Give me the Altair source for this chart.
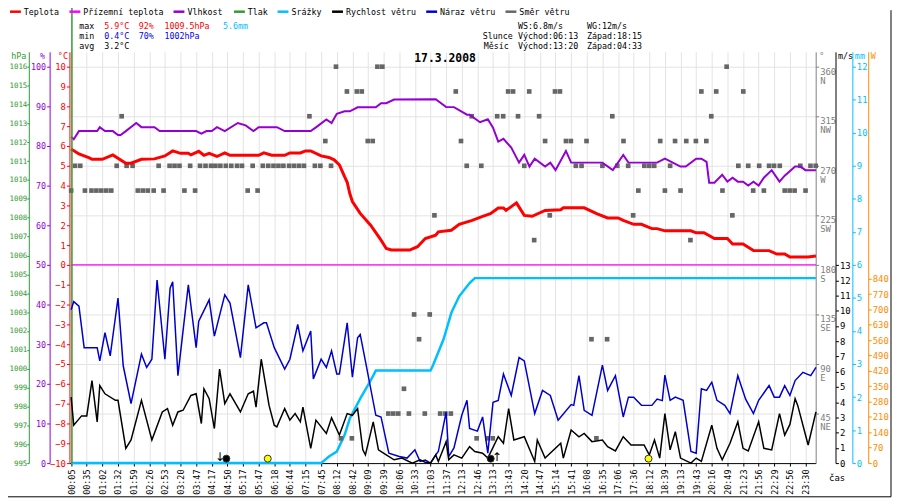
import altair as alt
import pandas as pd

PISMO = "DejaVu Sans Mono"

# popisky osy x (kazdy 6. vzorek)
casy = ["00:05", "00:35", "01:02", "01:32", "01:59", "02:26", "02:53", "03:20", "03:47", "04:17",
        "04:50", "05:17", "05:47", "06:18", "06:44", "07:15", "07:45", "08:12", "08:42", "09:09",
        "09:39", "10:06", "10:33", "11:03", "11:37", "12:13", "12:46", "13:13", "13:43", "14:20",
        "14:47", "15:14", "15:41", "16:08", "16:35", "17:06", "17:36", "18:12", "18:39", "19:13",
        "19:43", "20:16", "20:49", "21:23", "21:56", "22:29", "22:56", "23:30"]

# teplota [°C]
teplota_s = [0, 3, 7, 8, 12, 16, 21, 23, 27, 32, 36, 39, 42, 45, 46, 49, 51, 53, 56, 59, 61, 72, 74, 77, 82,
             84, 88, 90, 92, 96, 99, 101, 103, 105, 106, 107, 108, 111, 115, 119, 121, 123, 130, 133, 136,
             140, 141, 146, 149, 154, 158, 161, 164, 166, 167, 171, 174, 177, 182, 188, 189, 197, 202, 206,
             210, 212, 216, 219, 223, 225, 228, 238, 240, 243, 247, 252, 254, 258, 262, 268, 271, 274, 276,
             283, 286]
teplota = [5.85, 5.6, 5.4, 5.33, 5.33, 5.55, 5.13, 5.13, 5.33, 5.35, 5.5, 5.75, 5.63, 5.63, 5.55, 5.73, 5.53,
           5.63, 5.47, 5.65, 5.53, 5.53, 5.65, 5.53, 5.53, 5.65, 5.65, 5.75, 5.75, 5.5, 5.42, 5.3, 5.05,
           4.45, 4.17, 3.6, 3.2, 2.6, 2.0, 1.25, 0.83, 0.75, 0.75, 0.92, 1.33, 1.5, 1.67, 1.75, 2.05, 2.25,
           2.45, 2.58, 2.87, 2.87, 2.75, 3.13, 2.5, 2.45, 2.75, 2.78, 2.88, 2.88, 2.58, 2.37, 2.37, 2.25,
           2.05, 2.05, 1.83, 1.83, 1.72, 1.72, 1.62, 1.62, 1.33, 1.33, 1.05, 1.05, 0.72, 0.72, 0.55, 0.55,
           0.4, 0.4, 0.45]

# prizemni teplota [°C]
prizemni_s = [0, 286]
prizemni = [0.0, 0.0]

# vlhkost [%]
vlhkost_s = [0, 1, 3, 10, 11, 13, 16, 18, 19, 21, 25, 27, 32, 34, 48, 50, 52, 54, 56, 59, 64, 67, 70, 72, 79,
             82, 92, 94, 98, 100, 102, 105, 107, 110, 117, 119, 121, 124, 140, 144, 147, 152, 153, 157, 160,
             162, 164, 166, 169, 172, 174, 176, 178, 182, 184, 186, 190, 192, 204, 208, 212, 214, 225, 228,
             234, 236, 240, 242, 244, 245, 247, 250, 252, 254, 256, 258, 260, 262, 264, 266, 269, 272, 274,
             278, 280, 282, 286]
vlhkost = [82.3, 81.7, 83.75, 83.75, 84.75, 83.75, 83.75, 82.75, 82.75, 83.75, 85.8, 84.75, 84.75, 83.75,
           83.75, 83.1, 83.75, 83.75, 84.75, 83.75, 85.8, 85.2, 83.75, 84.75, 84.75, 83.75, 83.75, 84.7, 86.7,
           85.8, 88.1, 88.75, 88.75, 89.75, 89.75, 90.8, 90.8, 91.7, 91.8, 89.8, 89.8, 87.9, 87.9, 86, 86.75,
           84.6, 81.1, 81.8, 79.6, 75.8, 77.75, 74.8, 76.8, 74.8, 75.8, 73.9, 78.75, 75.8, 75.8, 73.9, 77.75,
           75.8, 75.8, 76.8, 74.8, 74.8, 76.8, 76.8, 76, 70.75, 70.75, 72.75, 71, 72, 71, 71, 70, 71, 70, 72,
           73.9, 71, 72.5, 74.8, 74.8, 73.9, 73.9]

# srazky [mm]
srazky_s = [0, 96, 99, 102, 105, 107, 111, 115, 117, 138, 139, 143, 146, 149, 153, 155, 286]
srazky = [0, 0, 0.2, 0.35, 0.85, 1.35, 1.95, 2.5, 2.8, 2.8, 2.97, 3.75, 4.55, 5.05, 5.45, 5.6, 5.6]

# naraz vetru [m/s]
naraz_s = [0, 1, 3, 5, 10, 11, 13, 15, 18, 20, 23, 27, 29, 31, 33, 36, 38, 39, 41, 45, 48, 49, 53, 55, 59,
           61, 65, 68, 71, 74, 75, 78, 82, 84, 87, 89, 92, 93, 96, 98, 100, 102, 103, 106, 108, 110, 111,
           113, 117, 119, 122, 126, 129, 132, 134, 136, 138, 140, 141, 144, 145, 147, 150, 152, 153, 156,
           158, 160, 162, 164, 166, 169, 172, 174, 178, 181, 184, 187, 192, 193, 195, 197, 200, 204, 206,
           209, 212, 214, 216, 219, 223, 225, 227, 228, 230, 232, 235, 238, 240, 242, 244, 246, 248, 251,
           253, 256, 259, 262, 264, 268, 270, 272, 274, 276, 278, 281, 284, 286]
naraz = [10.07, 10.6, 10.3, 7.58, 7.58, 6.71, 8.56, 7.04, 10.84, 6.39, 3.9, 7.15, 6.28, 6.82, 12.02, 6.82,
         11.48, 11.91, 5.74, 11.7, 7.58, 9.31, 10.72, 8.34, 11.05, 10.51, 6.93, 11.7, 8.88, 9.21, 9.21, 7.58,
         6.17, 6.82, 9.1, 7.37, 8.67, 5.53, 6.82, 6.28, 7.37, 5.85, 5.85, 9.21, 5.64, 8.23, 8.45, 6.7, 3.14,
         3.03, 0.65, 0.43, 0.33, 0.87, 0.11, 0.2, 0, 0.54, 0.76, 3.36, 0.43, 1.0, 3.14, 4.12, 2.27, 2.1,
         3.03, 0.65, 4.0, 4.12, 5.85, 4.44, 6.93, 6.71, 3.25, 4.77, 4.44, 2.82, 3.84, 3.79, 5.74, 3.47, 3.14,
         6.43, 4.77, 5.74, 3.03, 4.33, 4.33, 3.79, 3.79, 4.2, 4.1, 5.78, 4.12, 4.33, 4.12, 0.76, 0.65, 4.88,
         4.77, 5.31, 4.12, 3.79, 3.25, 5.74, 4.2, 3.25, 4.12, 5.09, 4.33, 4.33, 5.09, 4.44, 5.42, 5.96,
         5.74, 6.28]

# rychlost vetru [m/s]
rychlost_s = [0, 1, 4, 6, 8, 10, 11, 13, 17, 18, 21, 23, 27, 31, 35, 37, 39, 41, 43, 46, 48, 50, 51, 53, 55,
              57, 59, 61, 65, 68, 70, 71, 73, 76, 78, 79, 82, 84, 86, 88, 89, 92, 94, 98, 100, 103, 106, 108,
              110, 112, 113, 116, 118, 121, 124, 127, 131, 134, 136, 138, 140, 141, 144, 145, 147, 150, 153,
              155, 158, 160, 164, 166, 168, 170, 174, 178, 179, 182, 188, 189, 192, 195, 197, 200, 204, 206,
              209, 212, 215, 220, 222, 224, 226, 228, 230, 232, 234, 238, 240, 242, 246, 248, 250, 253, 256,
              258, 260, 264, 266, 269, 272, 274, 276, 278, 279, 283, 286]
rychlost = [4.33, 2.49, 3.1, 3.1, 5.42, 2.71, 5.09, 4.55, 4.12, 4.12, 0.97, 1.52, 4.12, 1.52, 3.36, 3.58,
            2.49, 3.36, 3.47, 4.44, 4.55, 2.6, 4.88, 4.23, 2.27, 6.17, 3.9, 4.55, 3.36, 4.55, 4.72, 3.68,
            6.82, 3.79, 2.49, 2.38, 3.58, 2.82, 3.25, 2.71, 3.68, 0.97, 2.82, 1.95, 2.97, 1.84, 3.25, 3.14,
            3.58, 0.87, 0.54, 2.71, 0.87, 0.54, 0.22, 0.33, 0, 0.22, 0.05, 0, 0.54, 0.11, 1.41, 0.22, 0.54,
            0.33, 1.08, 0.76, 0.65, 0.33, 1.73, 1.3, 3.58, 1.52, 1.73, 0.11, 1.52, 0.33, 1.3, 0.33, 2.17,
            1.73, 1.95, 1.41, 1.52, 1.08, 0.8, 1.73, 1.19, 1.19, 0.54, 1.52, 0.33, 3.25, 0.87, 2.06, 0.33, 0,
            0.33, 0.11, 2.49, 0.97, 0.22, 1.3, 2.71, 0.97, 0.8, 2.71, 0.97, 0.87, 3.25, 1.84, 2.54, 4.23,
            3.79, 1.19, 3.36]

# smer vetru: vzorky podle svetove strany [°]
smer_360 = [101.7, 117.6, 119.5, 251.7]
smer_337 = [105.9, 109.7, 111.6, 147.7, 167.8, 169.7, 175.9, 185.8, 187.7, 242, 247.7, 258.1]
smer_315 = [19.4, 91.5, 153.8, 163.6, 165.9, 171.6, 179.7, 207.8, 245.8]
smer_292 = [97.6, 113.9, 115.8, 149.7, 182, 190, 191.9, 197.9, 212.1, 226.2, 231.9, 236.2, 239.9, 243.9]
smer_270 = [1.5, 3.5, 17.5, 21.3, 23.6, 33.6, 37.8, 39.7, 41.6, 45.7, 49.5, 51.6, 53.7, 55.4, 57.3, 59.4,
            61.5, 63.7, 65.6, 69.7, 73.6, 75.7, 77.7, 79.6, 81.5, 83.7, 85.6, 87.5, 89.4, 93.6, 95.7, 99.8,
            151.9, 157.5, 174, 193.8, 196, 204, 209.7, 213.9, 220.1, 222, 223.9, 230, 256.2, 260, 264.2,
            268, 269.9, 272.1, 280, 283.9, 285.9]
smer_247 = [0, 5.3, 7.8, 9.7, 11.6, 13.5, 15.4, 25.6, 27.5, 29.4, 31.7, 35.5, 43.5, 47.6, 67.8, 71.6,
            217.8, 228, 234, 250.1, 261.9, 266, 274, 275.9, 277.8, 282]
smer_225 = [139.5, 183.8, 215.8, 253.9]
smer_202 = [177.8, 237.8]
smer_135 = [131.7, 137.7]
smer_112 = [133.6, 199.8, 205.8]
smer_67 = [127.8]
smer_45 = [121.8, 123.7, 125.6, 129.7, 135.8, 141.7, 143.7, 145.8]
smer_22 = [103.6, 107.8, 155.7, 159.8, 161.9, 201.7]

# vychod / zapad slunce a mesice
udalosti_s = [59.6, 75.5, 161.1, 221.7]
udalosti = ["měsíc", "slunce", "měsíc", "slunce"]
sipky_s = [57.2, 163.6]
sipky = ["↓", "↑"]

serie = ["Teplota", "Přízemní teplota", "Vlhkost", "Tlak", "Srážky", "Rychlost větru", "Náraz větru",
         "Směr větru"]
barvy = ["#ff0000", "#ff00ff", "#9400d3", "#339933", "#00bfff", "#000000", "#0000cc", "#666666"]
legenda_x = [-60, 0, 105, 166, 210, 265, 360, 440]


def tabulka(s, v, nazev):
    return pd.DataFrame({"s": s, "v": v, "serie": nazev})


smer_df = pd.concat([
    pd.DataFrame({"s": body, "v": uhel}) for uhel, body in [
        (360, smer_360), (337.5, smer_337), (315, smer_315), (292.5, smer_292), (270, smer_270),
        (247.5, smer_247), (225, smer_225), (202.5, smer_202), (135, smer_135), (112.5, smer_112),
        (67.5, smer_67), (45, smer_45), (22.5, smer_22)]
])

popisky = "[" + ",".join(f"'{c}'" for c in casy) + "][round(datum.value / 6)]"

x_osa = alt.X(
    "s:Q",
    scale=alt.Scale(domain=[-0.65, 285.9], nice=False, zero=False),
    axis=alt.Axis(values=list(range(0, 283, 6)), labelExpr=popisky, labelAngle=270, labelFlush=False,
                  labelOverlap=False, labelFont=PISMO, labelFontSize=8.5, labelPadding=3, tickSize=3,
                  tickColor="black", domainColor="black", grid=True, gridColor="#e3e3e3",
                  title="čas", titleAngle=0, titleX=766, titleY=15, titleAlign="left",
                  titleBaseline="middle", titleFont=PISMO, titleFontSize=9, titleFontWeight="normal"),
)

barva = alt.Color("serie:N", scale=alt.Scale(domain=serie, range=barvy), legend=None)


def osa_y(strana, posun, barva_osy, hodnoty, nadpis, nadpis_x, mrizka=False, tick=3, velikost=9,
          mezera=1, **dalsi):
    return alt.Axis(
        orient=strana, offset=posun, values=hodnoty, grid=mrizka, format="d",
        domainColor=barva_osy, tickColor=barva_osy, labelColor=barva_osy, titleColor=barva_osy,
        tickSize=tick, labelPadding=mezera, labelFont=PISMO, labelFontSize=velikost, labelOverlap=False,
        title=nadpis, titleAngle=0, titleX=nadpis_x, titleY=4,
        titleAlign="right" if strana == "left" else "left", titleBaseline="middle",
        titleFont=PISMO, titleFontSize=8.5, titleFontWeight="normal", **dalsi)


# teplota + prizemni teplota (osa °C)
y_teplota = alt.Y("v:Q", scale=alt.Scale(domain=[-10, 10.75], nice=False, zero=False),
                  axis=osa_y("left", 0, "#ff0000", list(range(-10, 11)), "°C", -2))
teplota_vrstva = alt.layer(
    alt.Chart(tabulka(prizemni_s, prizemni, "Přízemní teplota")).mark_line(strokeWidth=1.2).encode(
        x=x_osa, y=y_teplota, color=barva),
    alt.Chart(tabulka(teplota_s, teplota, "Teplota")).mark_line(strokeWidth=3).encode(
        x=x_osa, y=y_teplota, color=barva),
)

# vlhkost (osa %)
vlhkost_vrstva = alt.Chart(tabulka(vlhkost_s, vlhkost, "Vlhkost")).mark_line(strokeWidth=2).encode(
    x=x_osa,
    y=alt.Y("v:Q", scale=alt.Scale(domain=[0, 103.75], nice=False, zero=False),
            axis=osa_y("left", 20, "#9400d3", list(range(0, 101, 10)), "%", -5, velikost=8.5)),
    color=barva,
)

# tlak (osa hPa)
tlak_vrstva = alt.Chart(pd.DataFrame({"s": [0.3], "p0": [995], "p1": [1019.5], "serie": ["Tlak"]})).mark_rule(
    strokeWidth=1.5).encode(
    x=x_osa,
    y=alt.Y("p0:Q", scale=alt.Scale(domain=[995, 1016.79], nice=False, zero=False),
            axis=osa_y("left", 41, "#339933", list(range(995, 1017)), "hPa", -3, tick=2, velikost=7.5,
                       mezera=0)),
    y2="p1:Q",
    color=barva,
)

# smer vetru (osa °) - ctverecky, vodorovna mrizka
svetove = ("[datum.label, datum.value == 360 ? 'N' : datum.value == 315 ? 'NW' : datum.value == 270 ? 'W' : "
           "datum.value == 225 ? 'SW' : datum.value == 180 ? 'S' : datum.value == 135 ? 'SE' : "
           "datum.value == 90 ? 'E' : 'NE']")
smer_vrstva = alt.Chart(smer_df).mark_square(size=22, color="#666666", opacity=1).encode(
    x=x_osa,
    y=alt.Y("v:Q", scale=alt.Scale(domain=[0, 373.5], nice=False, zero=False),
            axis=osa_y("right", 0, "#808080", list(range(45, 361, 45)), "°", 3, mrizka=True,
                       gridColor="#e3e3e3", labelExpr=svetove, labelOffset=4.5, labelLineHeight=9)),
)

# vitr (osa m/s)
y_vitr = alt.Y("v:Q", scale=alt.Scale(domain=[0, 27.0], nice=False, zero=False),
               axis=osa_y("right", 20, "#000000", list(range(0, 14)), "m/s", 2))
vitr_vrstva = alt.layer(
    alt.Chart(tabulka(naraz_s, naraz, "Náraz větru")).mark_line(strokeWidth=1.5).encode(
        x=x_osa, y=y_vitr, color=barva),
    alt.Chart(tabulka(rychlost_s, rychlost, "Rychlost větru")).mark_line(strokeWidth=1.5).encode(
        x=x_osa, y=y_vitr, color=barva),
)

# srazky (osa mm)
srazky_vrstva = alt.Chart(tabulka(srazky_s, srazky, "Srážky")).mark_line(strokeWidth=2.5).encode(
    x=x_osa,
    y=alt.Y("v:Q", scale=alt.Scale(domain=[0, 12.45], nice=False, zero=False),
            axis=osa_y("right", 37, "#00bfff", list(range(0, 13)), "mm", 2)),
    color=barva,
)

# slunecni zareni (osa W) - bez dat
w_vrstva = alt.Chart(pd.DataFrame({"s": [0], "w": [0]})).mark_point(opacity=0).encode(
    x=x_osa,
    y=alt.Y("w:Q", scale=alt.Scale(domain=[0, 1874], nice=False, zero=False),
            axis=osa_y("right", 53, "#ff8c00", list(range(0, 841, 70)), "W", 2)),
)

# symboly slunce a mesice
kolecka = alt.Chart(pd.DataFrame({"s": udalosti_s, "druh": udalosti})).mark_point(
    filled=True, size=50, stroke="#333333", strokeWidth=1, opacity=1).encode(
    x=x_osa, y=alt.value(410.5),
    fill=alt.Fill("druh:N", scale=alt.Scale(domain=["měsíc", "slunce"], range=["#000000", "#ffff00"]),
                  legend=None),
)
sipky_vrstva = alt.Chart(pd.DataFrame({"s": sipky_s, "t": sipky})).mark_text(
    font="DejaVu Sans", fontSize=12, color="black", baseline="middle").encode(
    x=x_osa, y=alt.value(409), text="t:N")


def popis(text, x, y, barva_textu="black", **dalsi):
    styl = dict(align="left", baseline="middle", font=PISMO, fontSize=8.4, color=barva_textu)
    styl.update(dalsi)
    return alt.Chart(pd.DataFrame({"t": [text]})).mark_text(**styl).encode(
        x=alt.value(x), y=alt.value(y), text="t:N")


# legenda nahore
legenda = []
for nazev, barva_s, lx in zip(serie, barvy, legenda_x):
    legenda.append(alt.Chart(pd.DataFrame({"t": [nazev]})).mark_rule(color=barva_s, strokeWidth=2.5).encode(
        x=alt.value(lx), x2=alt.value(lx + 11), y=alt.value(-40.5)))
    legenda.append(popis(nazev, lx + 14, -40.5))

popisy = [
    popis("max", 10, -26), popis("5.9°C", 35, -26, "#ff0000"), popis("92%", 70, -26, "#ff0000"),
    popis("1009.5hPa", 96, -26, "#ff0000"), popis("5.6mm", 155, -26, "#00bfff"),
    popis("min", 10, -16), popis("0.4°C", 35, -16, "#0000ff"), popis("70%", 70, -16, "#0000ff"),
    popis("1002hPa", 96, -16, "#0000ff"),
    popis("avg", 10, -6), popis("3.2°C", 35, -6),
    popis("WS:6.8m/s", 452.7, -26), popis("WG:12m/s", 522.3, -26),
    popis("Slunce", 417, -16), popis("Východ:06:13", 452.7, -16), popis("Západ:18:15", 522.3, -16),
    popis("Měsíc", 418, -6), popis("Východ:13:20", 452.7, -6), popis("Západ:04:33", 522.3, -6),
    popis("17.3.2008", 379, 7.5, align="center", fontSize=11.5, fontWeight="bold"),
]

ramecek = alt.layer(
    alt.Chart(pd.DataFrame({"a": [0]})).mark_rule(color="black").encode(
        x=alt.value(829), y=alt.value(-42), y2=alt.value(449)),
    alt.Chart(pd.DataFrame({"a": [0]})).mark_rule(color="black").encode(
        x=alt.value(-62), x2=alt.value(829), y=alt.value(449)),
)

graf = alt.layer(
    srazky_vrstva, smer_vrstva, vlhkost_vrstva, teplota_vrstva, tlak_vrstva, vitr_vrstva, w_vrstva,
    kolecka, sipky_vrstva, ramecek, *legenda, *popisy,
).resolve_scale(
    y="independent"
).properties(
    width=753, height=415,
    padding={"left": 62, "top": 42, "right": 77, "bottom": 35},
    autosize=alt.AutoSizeParams(type="none"),
    background="white",
).configure(font=PISMO).configure_view(strokeWidth=0)

graf.save("out.html", embed_options={"renderer": "svg", "actions": False})
